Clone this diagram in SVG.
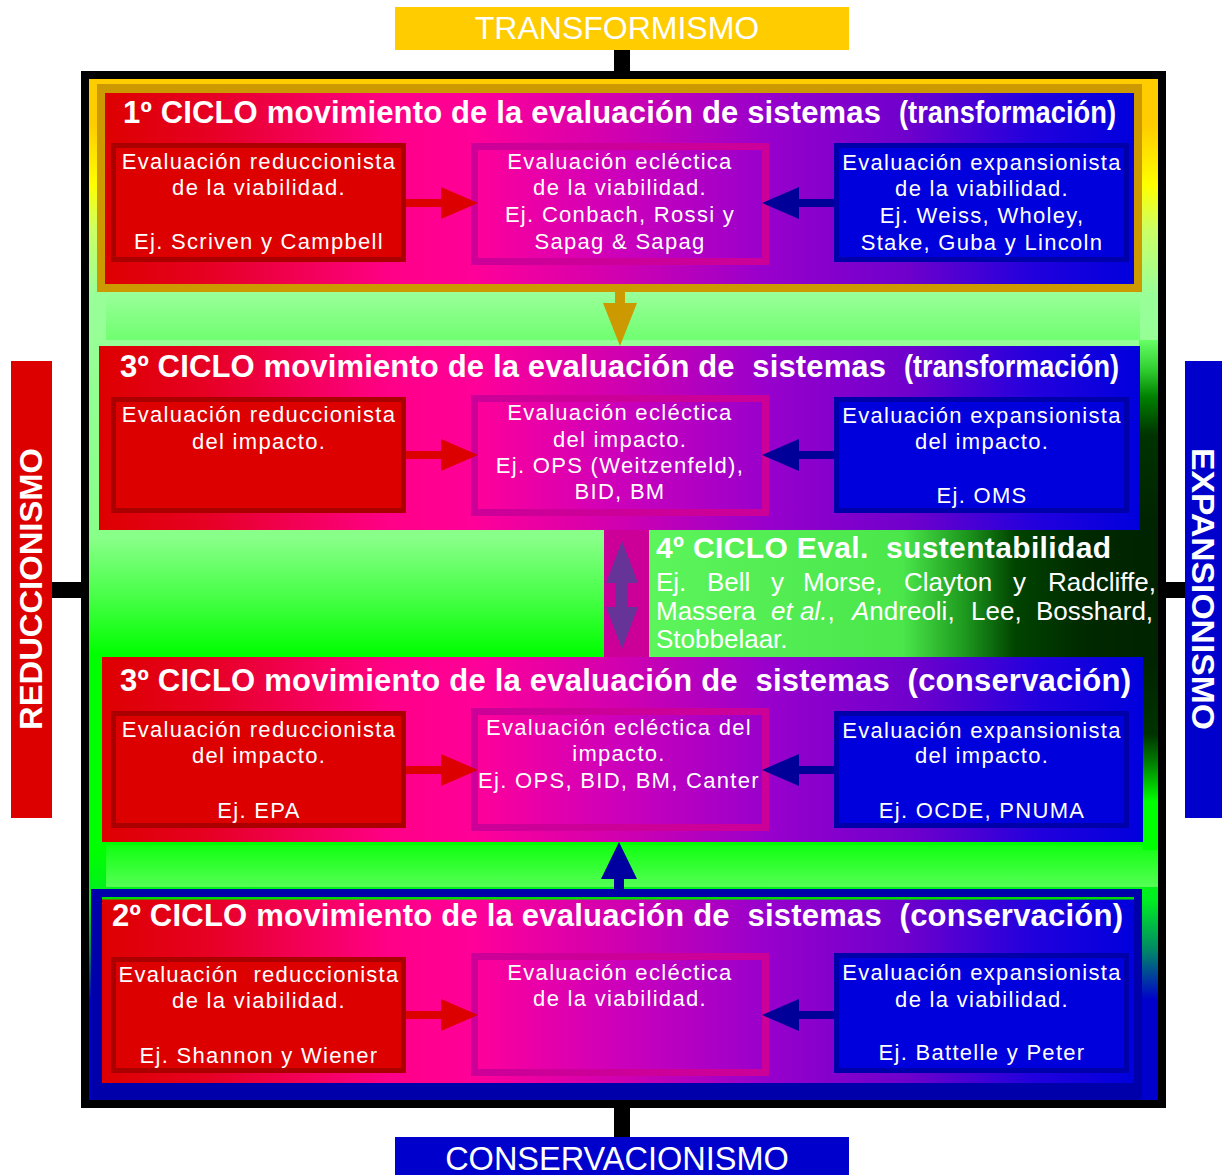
<svg xmlns="http://www.w3.org/2000/svg" width="1222" height="1175" viewBox="0 0 1222 1175">
<style>
text{font-family:"Liberation Sans",Arial,sans-serif;fill:#fff}
.b{font-size:22px;letter-spacing:1.3px;text-anchor:middle}
.ti{font-size:31px;font-weight:bold}
.f4{font-size:26px}
.side{font-size:32px;font-weight:bold;text-anchor:middle}
.lab{font-size:32px;text-anchor:middle}
.red{fill:#DD0000;stroke:#AA0000;stroke-width:5}
.blu{fill:#0000DD;stroke:#0000AA;stroke-width:5}
.mid{fill:url(#mid);stroke:#CC0099;stroke-width:7}
.row{fill:url(#row)}
</style>
<defs>
<linearGradient id="bg" gradientUnits="userSpaceOnUse" x1="0" y1="79" x2="0" y2="1100">
<stop offset="0" stop-color="#FFCC00"/><stop offset="0.045" stop-color="#FFCC00"/>
<stop offset="0.104" stop-color="#FFFF00"/><stop offset="0.148" stop-color="#CCFF66"/>
<stop offset="0.212" stop-color="#99FF99"/><stop offset="0.45" stop-color="#88FF88"/>
<stop offset="0.51" stop-color="#44FF44"/><stop offset="0.564" stop-color="#00FF00"/>
<stop offset="0.755" stop-color="#00FF00"/><stop offset="0.804" stop-color="#00EE22"/>
<stop offset="0.853" stop-color="#008866"/><stop offset="0.902" stop-color="#0000CC"/>
<stop offset="1" stop-color="#0000CC"/>
</linearGradient>
<linearGradient id="row" x1="0" y1="0" x2="1" y2="0">
<stop offset="0" stop-color="#DD0000"/><stop offset="0.1" stop-color="#E60022"/>
<stop offset="0.28" stop-color="#FF0088"/><stop offset="0.36" stop-color="#FF0099"/>
<stop offset="0.5" stop-color="#D000B0"/><stop offset="0.64" stop-color="#9900CC"/>
<stop offset="0.78" stop-color="#6F00CC"/><stop offset="0.9" stop-color="#2200DD"/>
<stop offset="1" stop-color="#0000DD"/>
</linearGradient>
<linearGradient id="mid" x1="0" y1="0" x2="1" y2="0">
<stop offset="0" stop-color="#FF0099"/><stop offset="0.5" stop-color="#CC00BB"/><stop offset="1" stop-color="#9900CC"/>
</linearGradient>
<linearGradient id="g4" gradientUnits="userSpaceOnUse" x1="648" y1="0" x2="1158" y2="0">
<stop offset="0" stop-color="#5CF55C"/><stop offset="0.5" stop-color="#4AE64A"/>
<stop offset="0.62" stop-color="#1E9A1E"/><stop offset="0.72" stop-color="#004400"/>
<stop offset="0.85" stop-color="#002A00"/><stop offset="1" stop-color="#002200"/>
</linearGradient>
<linearGradient id="band1" x1="0" y1="0" x2="0" y2="1"><stop offset="0" stop-color="#99FF99"/><stop offset="1" stop-color="#70FF70"/></linearGradient>
<linearGradient id="band2" x1="0" y1="0" x2="0" y2="1"><stop offset="0" stop-color="#11FF11"/><stop offset="1" stop-color="#55FF55"/></linearGradient>
<linearGradient id="stripA" x1="0" y1="0" x2="0" y2="1">
<stop offset="0" stop-color="#66FF66"/><stop offset="0.16" stop-color="#2FCC2F"/><stop offset="0.3" stop-color="#008000"/><stop offset="0.5" stop-color="#003300"/><stop offset="1" stop-color="#002200"/>
</linearGradient>
<linearGradient id="stripB" x1="0" y1="0" x2="0" y2="1">
<stop offset="0" stop-color="#002200"/><stop offset="0.4" stop-color="#003300"/><stop offset="0.55" stop-color="#008000"/><stop offset="0.75" stop-color="#00FF00"/><stop offset="1" stop-color="#00FF00"/>
</linearGradient>
<polygon id="arrR" points="406,-4 441,-4 441,-16 478,0 441,16 441,4 406,4" fill="#DD0000"/>
<polygon id="arrL" points="834,-4 799,-4 799,-16 762,0 799,16 799,4 834,4" fill="#000099"/>
</defs>

<g id="frame">
<rect x="89" y="79" width="1069" height="1021" fill="url(#bg)"/>
<rect x="106" y="293" width="1034" height="47" fill="url(#band1)"/>
<rect x="106" y="845" width="1052" height="42" fill="url(#band2)"/>
<rect x="1139" y="340" width="19" height="190" fill="url(#stripA)"/>
<rect x="1143" y="657" width="15" height="193" fill="url(#stripB)"/>
<rect x="604" y="530" width="45" height="127" fill="#CC0099"/>
<rect x="85" y="75" width="1077" height="1029" fill="none" stroke="#000" stroke-width="8"/>
</g>

<g id="labels">
<g id="transformismo"><rect x="395" y="7" width="454" height="43" fill="#FFCC00"/><text class="lab" x="617" y="39">TRANSFORMISMO</text></g>
<g id="conservacionismo"><rect x="395" y="1137" width="454" height="38" fill="#0000CC"/><text class="lab" x="617" y="1170" style="font-size:32.5px">CONSERVACIONISMO</text></g>
<g id="reduccionismo"><rect x="11" y="361" width="41" height="457" fill="#DD0000"/><text class="side" transform="translate(42,589) rotate(-90)" textLength="282" lengthAdjust="spacingAndGlyphs">REDUCCIONISMO</text></g>
<g id="expansionismo"><rect x="1185" y="361" width="37" height="457" fill="#0000CC"/><text class="side" transform="translate(1192,589) rotate(90)" textLength="282" lengthAdjust="spacingAndGlyphs">EXPANSIONISMO</text></g>
</g>

<g id="ciclo1">
<rect x="97" y="84" width="1045" height="208" fill="#CC9900"/>
<rect class="row" x="105" y="93" width="1029" height="191"/>
<text class="ti" x="123" y="123" textLength="758">1º CICLO movimiento de la evaluación de sistemas</text>
<text class="ti" x="899" y="123" textLength="217" lengthAdjust="spacingAndGlyphs">(transformación)</text>
<g id="c1-red"><rect class="red" x="113.5" y="145.5" width="290" height="114"/>
<text class="b" x="259" y="169">Evaluación reduccionista</text><text class="b" x="259" y="195">de la viabilidad.</text><text class="b" x="259" y="249">Ej. Scriven y Campbell</text></g>
<g id="c1-mid"><rect class="mid" x="474.5" y="146.5" width="291" height="115"/>
<text class="b" x="620" y="169">Evaluación ecléctica</text><text class="b" x="620" y="195">de la viabilidad.</text><text class="b" x="620" y="222">Ej. Conbach, Rossi y</text><text class="b" x="620" y="249">Sapag &amp; Sapag</text></g>
<g id="c1-blue"><rect class="blu" x="836.5" y="145.5" width="290" height="114"/>
<text class="b" x="982" y="170">Evaluación expansionista</text><text class="b" x="982" y="196">de la viabilidad.</text><text class="b" x="982" y="223">Ej. Weiss, Wholey,</text><text class="b" x="982" y="250">Stake, Guba y Lincoln</text></g>
</g>

<g id="ciclo3t">
<rect class="row" x="99" y="346" width="1041" height="184"/>
<text class="ti" x="120" y="377" textLength="766" xml:space="preserve">3º CICLO movimiento de la evaluación de  sistemas</text>
<text class="ti" x="904" y="377" textLength="215" lengthAdjust="spacingAndGlyphs">(transformación)</text>
<g id="c3t-red"><rect class="red" x="113.5" y="399.5" width="290" height="111"/>
<text class="b" x="259" y="422">Evaluación reduccionista</text><text class="b" x="259" y="449">del impacto.</text></g>
<g id="c3t-mid"><rect class="mid" x="474.5" y="398.5" width="291" height="114"/>
<text class="b" x="620" y="420">Evaluación ecléctica</text><text class="b" x="620" y="447">del impacto.</text><text class="b" x="620" y="473">Ej. OPS (Weitzenfeld),</text><text class="b" x="620" y="499">BID, BM</text></g>
<g id="c3t-blue"><rect class="blu" x="836.5" y="399.5" width="290" height="111"/>
<text class="b" x="982" y="423">Evaluación expansionista</text><text class="b" x="982" y="449">del impacto.</text><text class="b" x="982" y="503">Ej. OMS</text></g>
</g>

<g id="ciclo4">
<rect x="649" y="530" width="509" height="127" fill="url(#g4)"/>
<text class="ti" x="656" y="558" style="font-size:30px" textLength="455" xml:space="preserve">4º CICLO Eval.  sustentabilidad</text>
<text class="f4" y="591"><tspan x="656">Ej.</tspan><tspan x="707">Bell</tspan><tspan x="771">y</tspan><tspan x="803">Morse,</tspan><tspan x="904">Clayton</tspan><tspan x="1013">y</tspan><tspan x="1048">Radcliffe,</tspan></text>
<text class="f4" y="620"><tspan x="656">Massera</tspan><tspan x="771" font-style="italic">et al.</tspan><tspan>,</tspan><tspan x="852" font-style="italic">A</tspan><tspan>ndreoli,</tspan><tspan x="971">Lee,</tspan><tspan x="1036">Bosshard,</tspan></text>
<text class="f4" x="656" y="648">Stobbelaar.</text>
</g>

<g id="ciclo3c">
<rect class="row" x="102" y="657" width="1041" height="185"/>
<text class="ti" x="120" y="691" textLength="1011" xml:space="preserve">3º CICLO movimiento de la evaluación de  sistemas  (conservación)</text>
<g id="c3c-red"><rect class="red" x="113.5" y="713.5" width="290" height="112"/>
<text class="b" x="259" y="737">Evaluación reduccionista</text><text class="b" x="259" y="763">del impacto.</text><text class="b" x="259" y="818">Ej. EPA</text></g>
<g id="c3c-mid"><rect class="mid" x="474.5" y="711.5" width="291" height="116"/>
<text class="b" x="619" y="735">Evaluación ecléctica del</text><text class="b" x="619" y="761">impacto.</text><text class="b" x="619" y="788">Ej. OPS, BID, BM, Canter</text></g>
<g id="c3c-blue"><rect class="blu" x="836.5" y="713.5" width="290" height="112"/>
<text class="b" x="982" y="738">Evaluación expansionista</text><text class="b" x="982" y="763">del impacto.</text><text class="b" x="982" y="818">Ej. OCDE, PNUMA</text></g>
</g>

<g id="ciclo2">
<rect x="91" y="889" width="1051" height="211" fill="#0000AA"/>
<rect class="row" x="102" y="899" width="1032" height="184"/>
<rect x="102" y="897" width="1032" height="2.5" fill="#00DD00"/>
<text class="ti" x="112" y="926" textLength="1011" xml:space="preserve">2º CICLO movimiento de la evaluación de  sistemas  (conservación)</text>
<g id="c2-red"><rect class="red" x="113.5" y="959.5" width="290" height="111"/>
<text class="b" x="259" y="982" textLength="281" xml:space="preserve">Evaluación  reduccionista</text><text class="b" x="259" y="1008">de la viabilidad.</text><text class="b" x="259" y="1063">Ej. Shannon y Wiener</text></g>
<g id="c2-mid"><rect class="mid" x="474.5" y="956.5" width="291" height="116"/>
<text class="b" x="620" y="980">Evaluación ecléctica</text><text class="b" x="620" y="1006">de la viabilidad.</text></g>
<g id="c2-blue"><rect class="blu" x="836.5" y="955.5" width="290" height="115"/>
<text class="b" x="982" y="980">Evaluación expansionista</text><text class="b" x="982" y="1007">de la viabilidad.</text><text class="b" x="982" y="1060">Ej. Battelle y Peter</text></g>
</g>

<g id="connectors">
<rect x="614" y="50" width="16" height="21" fill="#000"/>
<rect x="614" y="1108" width="16" height="29" fill="#000"/>
<rect x="52" y="582" width="29" height="16" fill="#000"/>
<rect x="1166" y="582" width="19" height="16" fill="#000"/>
<use href="#arrR" y="203"/><use href="#arrL" y="203"/>
<use href="#arrR" y="455"/><use href="#arrL" y="455"/>
<use href="#arrR" y="770"/><use href="#arrL" y="770"/>
<use href="#arrR" y="1015"/><use href="#arrL" y="1015"/>
<polygon points="615,292 625,292 625,303 637,303 620,346 603,303 615,303" fill="#CC9900"/>
<polygon points="619,842 637,879 624,879 624,889 614,889 614,879 601,879" fill="#0000A0"/>
<polygon points="622,541 638,583 628,583 628,607 638,607 622,649 606,607 616,607 616,583 606,583" fill="#663399"/>
</g>
</svg>
